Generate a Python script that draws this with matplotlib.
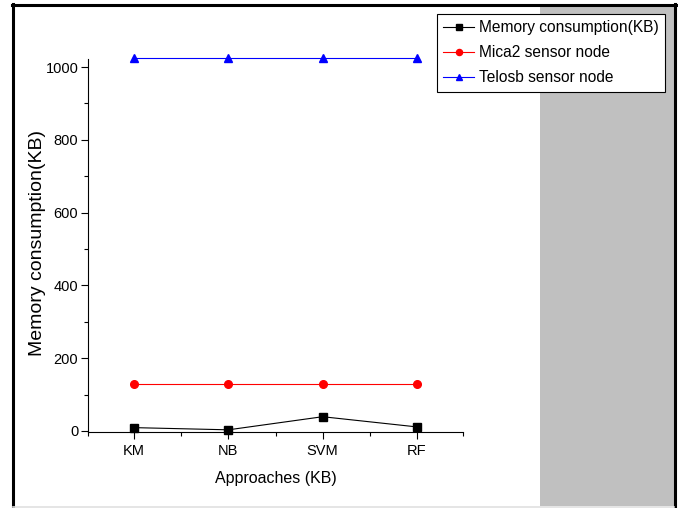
import matplotlib
matplotlib.use("Agg")
import matplotlib.pyplot as plt
from matplotlib.patches import Rectangle
from matplotlib.lines import Line2D
from matplotlib.ticker import FixedLocator

# data
approaches = ["KM", "NB", "SVM", "RF"]
memory_kb = [9, 3, 39, 11]
mica2_kb = [128, 128, 128, 128]
telosb_kb = [1024, 1024, 1024, 1024]

plt.rcParams["font.family"] = ["Liberation Sans", "DejaVu Sans"]

W, H = 678, 508
fig = plt.figure(figsize=(W / 100, H / 100), dpi=100)

# pixel coords (top-left origin) -> figure fraction
def px(x, y):
    return x / W, 1 - y / H

# grey panel on the right and the outer frame
fig.patches.append(Rectangle(px(540, 506), 134 / W, 501 / H, transform=fig.transFigure,
                             facecolor="#c0c0c0", edgecolor="none", zorder=0))
for (x0, y0), (x1, y1), c, lw in [((13, 4), (13, 506), "black", 2.2),
                                  ((12, 5), (676, 5), "black", 2.2),
                                  ((674.5, 4), (674.5, 506), "black", 2.2),
                                  ((13, 506.5), (674, 506.5), "#e0e0e0", 1.2)]:
    a, b = px(x0, y0)
    c2, d = px(x1, y1)
    fig.lines.append(Line2D([a, c2], [b, d], transform=fig.transFigure, color=c, lw=lw))

ax = fig.add_axes([88 / W, 1 - 432 / H, (463 - 88) / W, (432 - 59) / H])
ax.patch.set_alpha(0)
ax.set_zorder(3)

x = range(1, len(approaches) + 1)
ax.plot(x, memory_kb, color="black", lw=0.8, marker="s", ms=6, clip_on=False,
        label="Memory consumption(KB)")
ax.plot(x, mica2_kb, color="red", lw=0.8, marker="o", ms=5.5, clip_on=False,
        label="Mica2 sensor node")
ax.plot(x, telosb_kb, color="blue", lw=0.8, marker="^", ms=6, clip_on=False,
        label="Telosb sensor node")

ax.set_xlim(0.51, 4.49)
ax.set_ylim(-3, 1022)
ax.set_xticks(list(x))
ax.set_xticklabels(approaches)
ax.xaxis.set_minor_locator(FixedLocator([0.51, 1.5, 2.5, 3.5, 4.49]))
ax.set_yticks([0, 200, 400, 600, 800, 1000])
ax.yaxis.set_minor_locator(FixedLocator([100, 300, 500, 700, 900]))
ax.tick_params(which="both", direction="out", labelsize=10.5, width=0.8)
ax.tick_params(which="major", length=5)
ax.tick_params(which="minor", length=3)
ax.tick_params(axis="y", pad=2)

for s in ["top", "right"]:
    ax.spines[s].set_visible(False)
for s in ["left", "bottom"]:
    ax.spines[s].set_linewidth(0.8)

ax.set_xlabel("Approaches (KB)", fontsize=11.5, va="center")
ax.xaxis.set_label_coords(0.5, (432 - 479) / 373)
ax.set_ylabel("Memory consumption(KB)", fontsize=14, va="center")
ax.yaxis.set_label_coords((37 - 88) / 375, (432 - 243) / 373)

leg = ax.legend(loc="upper left", bbox_to_anchor=px(437, 14),
                bbox_transform=fig.transFigure, fontsize=11.2, frameon=True,
                fancybox=False, edgecolor="black", facecolor="white", framealpha=1,
                handlelength=2.0, handletextpad=0.3, borderpad=0.4,
                labelspacing=0.65, borderaxespad=0, markerscale=0.8)
leg.get_frame().set_linewidth(0.8)

fig.savefig("out.png", dpi=100)
